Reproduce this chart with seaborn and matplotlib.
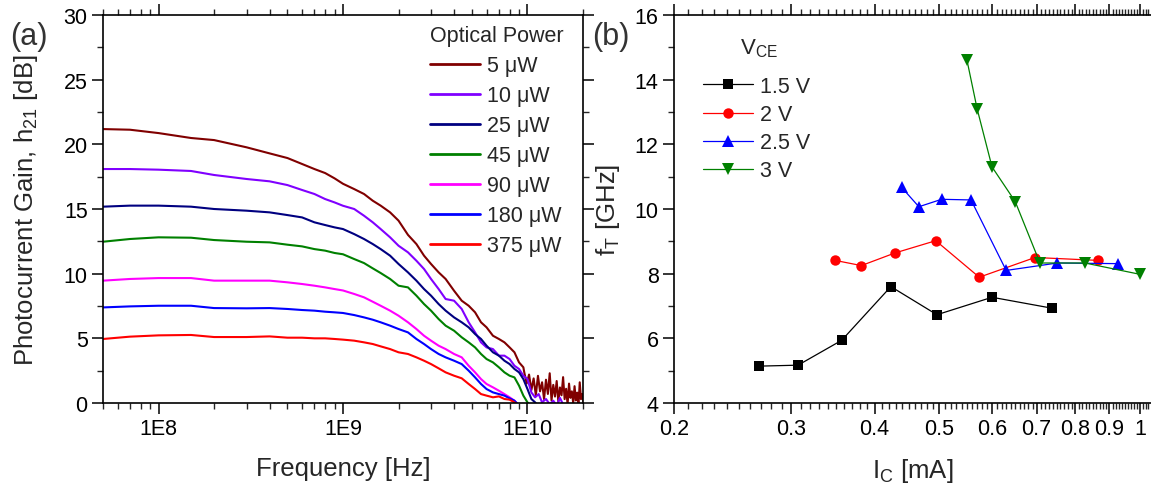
import numpy as np
import pandas as pd
import matplotlib
matplotlib.use("Agg")
import matplotlib.pyplot as plt
import matplotlib.ticker as mticker
import seaborn as sns

# ---------------- data ----------------
freq_ghz = [0.05, 0.07, 0.1, 0.15, 0.2, 0.3, 0.4, 0.5, 0.6, 0.7, 0.8, 0.9, 1.0,
            1.15, 1.3, 1.45, 1.6, 1.8, 2.0, 2.25, 2.5, 2.75, 3.0, 3.3, 3.6, 4.0,
            4.4, 4.8, 5.2, 5.6, 6.0, 6.5, 7.0, 7.5, 8.0, 8.5, 9.0, 9.5, 10.0, 10.5,
            11.0, 11.5, 12.0, 12.6, 13.2, 13.8, 14.4, 15.0, 15.7, 16.4, 17.1, 17.8,
            18.5, 19.2, 20.0]
nan = float("nan")
gain_5uw = [21.18, 21.13, 20.87, 20.49, 20.33, 19.77, 19.30, 18.94, 18.48, 18.09, 17.78, 17.37, 16.95,
            16.54, 16.16, 15.64, 15.26, 14.74, 14.10, 13.00, 12.29, 11.39, 10.75, 10.10, 9.59, 8.68,
            7.91, 7.52, 7.01, 6.24, 5.85, 5.20, 4.95, 4.69, 4.30, 3.92, 3.14, 2.76, nan, nan,
            nan, nan, nan, nan, nan, nan, nan, nan, nan, nan, nan, nan, nan, nan, nan]
# dense noisy tail of the 5 uW trace (GHz / dB)
tail_freq_ghz = [9.6, 9.9, 10.2, 10.5, 10.8, 11.1, 11.4, 11.7, 12.0, 12.3, 12.6, 12.9,
                 13.2, 13.5, 13.8, 14.1, 14.4, 14.7, 15.0, 15.3, 15.6, 15.9, 16.2, 16.5,
                 16.8, 17.1, 17.4, 17.7, 18.0, 18.3, 18.6, 18.9, 19.2, 19.5, 19.8, 20.1]
tail_5uw = [2.4, 1.5, 2.2, 1.0, 1.9, 0.6, 2.1, 0.9, 1.6, 0.3, 1.8, 0.7,
            2.3, 0.2, 1.4, 0.5, 1.7, 0.1, 1.2, 0.6, 2.0, 0.3, 1.1, -0.1,
            1.5, 0.4, 0.9, 0.0, 1.3, 0.2, 0.8, -0.2, 1.6, 0.3, 0.7, 0.1]
gain_10uw = [18.09, 18.09, 18.04, 17.94, 17.63, 17.32, 17.14, 16.85, 16.47, 16.16, 15.77, 15.51, 15.25,
             15.00, 14.48, 13.97, 13.45, 12.81, 12.16, 11.65, 11.00, 10.36, 9.59, 8.81, 8.04, 7.91,
             7.27, 6.24, 5.46, 4.69, 4.30, 4.17, 3.66, 3.66, 3.40, 2.88, 2.63, 2.11, 1.85, 0.82,
             0.44, 0.69, 0.05, 0.31, -0.1, 0.18, -0.2, 0.4, -0.2, nan, nan, nan, nan, nan, nan]
gain_25uw = [15.18, 15.26, 15.26, 15.18, 15.00, 14.87, 14.74, 14.53, 14.35, 13.97, 13.76, 13.58, 13.45,
             13.06, 12.68, 12.29, 11.90, 11.39, 10.75, 10.10, 9.46, 8.81, 8.30, 7.65, 7.14, 6.62,
             6.24, 5.85, 5.33, 4.95, 4.43, 3.92, 3.66, 3.27, 3.01, 2.63, 2.37, 1.85, 1.08, 0.31,
             0.05, -0.3, nan, nan, nan, nan, nan, nan, nan, nan, nan, nan, nan, nan, nan]
gain_45uw = [12.47, 12.68, 12.81, 12.78, 12.60, 12.47, 12.42, 12.24, 12.11, 11.90, 11.78, 11.60, 11.50,
             11.13, 10.82, 10.41, 10.05, 9.59, 9.07, 8.94, 8.30, 7.65, 7.14, 6.49, 5.98, 5.59,
             5.08, 4.69, 4.30, 3.79, 3.40, 3.14, 2.76, 2.37, 2.11, 1.98, 1.34, 0.57, 0.05, -0.3,
             nan, nan, nan, nan, nan, nan, nan, nan, nan, nan, nan, nan, nan, nan, nan]
gain_90uw = [9.46, 9.59, 9.66, 9.66, 9.46, 9.46, 9.46, 9.33, 9.20, 9.07, 8.94, 8.81, 8.70,
             8.43, 8.17, 7.83, 7.52, 7.14, 6.75, 6.24, 5.72, 5.20, 4.82, 4.43, 4.17, 3.79,
             3.53, 2.88, 2.37, 1.85, 1.47, 1.21, 0.95, 0.69, 0.44, 0.18, -0.2, nan, nan, nan,
             nan, nan, nan, nan, nan, nan, nan, nan, nan, nan, nan, nan, nan, nan, nan]
gain_180uw = [7.39, 7.47, 7.52, 7.52, 7.34, 7.32, 7.34, 7.27, 7.19, 7.14, 7.06, 7.01, 6.96,
              6.80, 6.62, 6.44, 6.24, 5.98, 5.72, 5.46, 4.95, 4.56, 4.17, 3.79, 3.53, 3.27,
              3.01, 2.50, 1.98, 1.47, 1.08, 0.82, 0.69, 0.57, 0.36, 0.18, -0.2, nan, nan, nan,
              nan, nan, nan, nan, nan, nan, nan, nan, nan, nan, nan, nan, nan, nan, nan]
gain_375uw = [4.95, 5.13, 5.23, 5.26, 5.10, 5.10, 5.15, 5.05, 5.05, 5.00, 5.00, 4.95, 4.90,
              4.82, 4.69, 4.56, 4.38, 4.17, 3.92, 3.79, 3.53, 3.27, 3.01, 2.68, 2.37, 2.11,
              1.91, 1.47, 1.08, 0.69, 0.57, 0.44, 0.51, 0.31, 0.26, 0.05, -0.2, nan, nan, nan,
              nan, nan, nan, nan, nan, nan, nan, nan, nan, nan, nan, nan, nan, nan, nan]
power_labels = ["5 μW", "10 μW", "25 μW", "45 μW", "90 μW", "180 μW", "375 μW"]
power_colors = ["#800000", "#8000FF", "#000080", "#008000", "#FF00FF", "#0000FF", "#FF0000"]
x_tick_vals = [1e8, 1e9, 1e10]
x_tick_labels = ["1E8", "1E9", "1E10"]

ic_15 = [0.268, 0.307, 0.357, 0.423, 0.496, 0.600, 0.739]
ft_15 = [5.14, 5.17, 5.94, 7.60, 6.73, 7.27, 6.93]
ic_20 = [0.349, 0.382, 0.429, 0.494, 0.574, 0.696, 0.866]
ft_20 = [8.41, 8.25, 8.64, 9.02, 7.89, 8.50, 8.41]
ic_25 = [0.439, 0.466, 0.504, 0.558, 0.630, 0.752, 0.928]
ft_25 = [10.67, 10.07, 10.30, 10.28, 8.10, 8.33, 8.31]
ic_30 = [0.550, 0.570, 0.600, 0.650, 0.708, 0.827, 1.000]
ft_30 = [14.62, 13.09, 11.30, 10.23, 8.33, 8.33, 7.98]
vce_labels = ["1.5 V", "2 V", "2.5 V", "3 V"]
vce_colors = ["#000000", "#FF0000", "#0000FF", "#008000"]
vce_markers = ["s", "o", "^", "v"]
vce_msizes = [6.5, 7.5, 9, 9]
ic_ticks = [0.2, 0.3, 0.4, 0.5, 0.6, 0.7, 0.8, 0.9, 1.0]
ic_tick_labels = ["0.2", "0.3", "0.4", "0.5", "0.6", "0.7", "0.8", "0.9", "1"]

# ---------------- style ----------------
sns.set_style("ticks")
plt.rcParams["font.family"] = ["Liberation Sans", "DejaVu Sans"]
plt.rcParams["mathtext.fontset"] = "custom"
plt.rcParams["mathtext.rm"] = "Liberation Sans"
plt.rcParams["mathtext.it"] = "Liberation Sans:italic"
plt.rcParams["axes.linewidth"] = 1.2

W, H = 1151, 485
fig = plt.figure(figsize=(W / 100, H / 100), dpi=100)
ax1 = fig.add_axes([103 / W, 1 - 404 / H, 480 / W, 388 / H])
ax2 = fig.add_axes([674 / W, 1 - 404 / H, 477 / W, 388 / H])

TICK_FS = 15.5
LAB_FS = 18.5
LEG_FS = 15.5

# ---------------- left panel ----------------
series = [gain_5uw, gain_10uw, gain_25uw, gain_45uw, gain_90uw, gain_180uw, gain_375uw]
rows = []
for lab, vals in zip(power_labels, series):
    for f, v in zip(freq_ghz, vals):
        rows.append({"freq": f * 1e9, "gain": v, "power": lab})
for f, v in zip(tail_freq_ghz, tail_5uw):
    rows.append({"freq": f * 1e9, "gain": v, "power": power_labels[0]})
df = pd.DataFrame(rows).dropna()
sns.lineplot(data=df, x="freq", y="gain", hue="power", hue_order=power_labels,
             palette=dict(zip(power_labels, power_colors)), estimator=None, sort=True,
             linewidth=1.5, ax=ax1)
ax1.set_xscale("log")
ax1.set_xlim(5e7, 2e10)
ax1.set_ylim(0, 30)
ax1.xaxis.set_major_locator(mticker.FixedLocator(x_tick_vals))
ax1.xaxis.set_major_formatter(mticker.FixedFormatter(x_tick_labels))
ax1.xaxis.set_minor_locator(mticker.LogLocator(base=10, subs=np.arange(2, 10)))
ax1.xaxis.set_minor_formatter(mticker.NullFormatter())
ax1.yaxis.set_major_locator(mticker.MultipleLocator(5))
ax1.yaxis.set_minor_locator(mticker.MultipleLocator(2.5))
ax1.set_xlabel("Frequency [Hz]", fontsize=LAB_FS, labelpad=12)
ax1.set_ylabel("Photocurrent Gain, h$_{\\mathregular{21}}$ [dB]", fontsize=LAB_FS, labelpad=17)

leg1 = ax1.legend(title="Optical Power", loc="upper left",
                  bbox_to_anchor=((430 - 103) / 480, (404 - 26) / 388),
                  frameon=False, fontsize=LEG_FS, title_fontsize=LEG_FS, handlelength=2.3,
                  handletextpad=0.35, labelspacing=0.42, borderaxespad=0.0, borderpad=0.0)
leg1._legend_box.align = "left"
for h in leg1.get_lines():
    h.set_linewidth(2)

# ---------------- right panel ----------------
for x, y, lab, c, m, ms in zip([ic_15, ic_20, ic_25, ic_30], [ft_15, ft_20, ft_25, ft_30],
                               vce_labels, vce_colors, vce_markers, vce_msizes):
    sns.lineplot(x=x, y=y, color=c, marker=m, markersize=ms, markeredgewidth=0,
                 linewidth=0.9, label=lab, ax=ax2, sort=False)
ax2.set_xscale("log")
ax2.set_xlim(0.2, 1.039)
ax2.set_ylim(4, 16)
ax2.xaxis.set_major_locator(mticker.FixedLocator(ic_ticks))
ax2.xaxis.set_major_formatter(mticker.FixedFormatter(ic_tick_labels))
ax2.xaxis.set_minor_locator(mticker.FixedLocator(np.arange(0.21, 1.04, 0.01)))
ax2.xaxis.set_minor_formatter(mticker.NullFormatter())
ax2.yaxis.set_major_locator(mticker.MultipleLocator(2))
ax2.yaxis.set_minor_locator(mticker.MultipleLocator(1))
ax2.set_xlabel("I$_{\\mathregular{C}}$ [mA]", fontsize=LAB_FS, labelpad=12)
ax2.set_ylabel("f$_{\\mathregular{T}}$ [GHz]", fontsize=LAB_FS, labelpad=9)

leg2 = ax2.legend(loc="upper left", bbox_to_anchor=((703 - 674) / 477, (404 - 77) / 388),
                  frameon=False, fontsize=LEG_FS, handlelength=2.3,
                  handletextpad=0.35, labelspacing=0.33, borderaxespad=0.0, borderpad=0.0)
fig.text(740 / W, 1 - 54 / H, "V$_{\\mathregular{CE}}$", fontsize=16, va="baseline", ha="left")

# ---------------- axes cosmetics ----------------
for ax in (ax1, ax2):
    for s in ax.spines.values():
        s.set_visible(True)
        s.set_color("black")
        s.set_linewidth(1.2)
    ax.grid(False)
    ax.tick_params(which="major", direction="out", length=8, width=1.1,
                   labelsize=TICK_FS, colors="black", pad=3,
                   top=True, right=True, labeltop=False, labelright=False)
    ax.tick_params(which="minor", direction="out", length=4, width=1.0,
                   top=True, right=True)
ax2.spines["right"].set_visible(False)
ax2.tick_params(which="both", right=False)

fig.text(10 / W, 1 - 37 / H, "(a)", fontsize=22, color="#333333", va="center", ha="left")
fig.text(592 / W, 1 - 37 / H, "(b)", fontsize=22, color="#333333", va="center", ha="left")

fig.savefig("out.png", dpi=100)
